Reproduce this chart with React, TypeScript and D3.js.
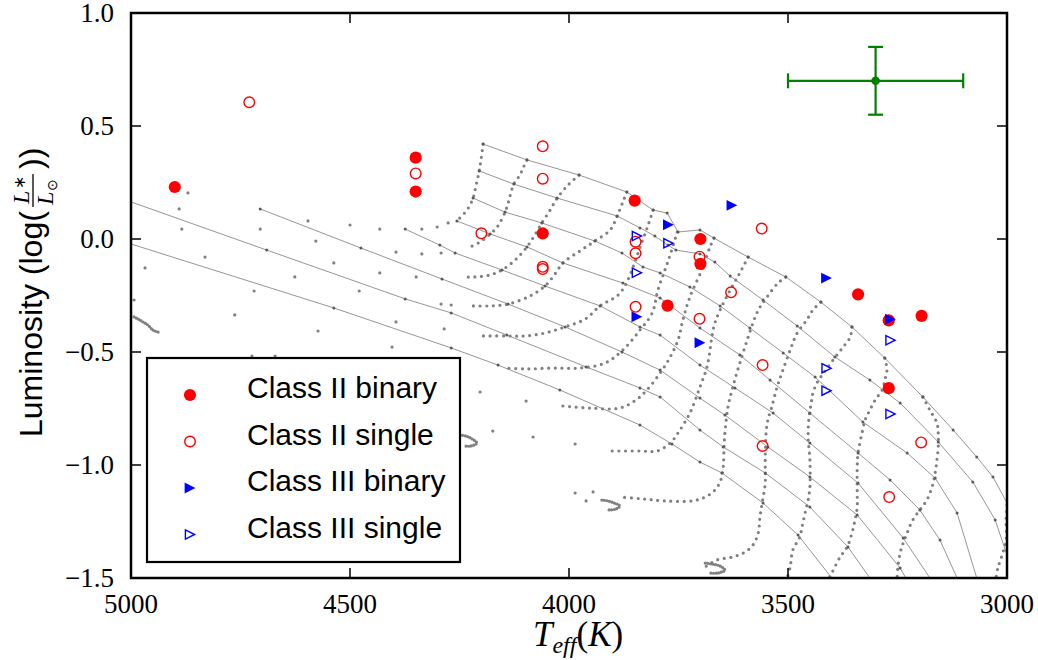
import React from 'react';
import * as d3 from 'd3';

type P = [number, number];

// Axis ticks
const X_TICKS = [5000, 4500, 4000, 3500, 3000];
const Y_TICKS = [1.0, 0.5, 0.0, -0.5, -1.0, -1.5];

// Observed stars: [Teff (K), log(L*/Lsun)]
const classIIBinary: P[] = [
  [4900, 0.23], [4350, 0.36], [4350, 0.21], [4060, 0.025], [3850, 0.17],
  [3700, 0.0], [3700, -0.11], [3775, -0.295], [3340, -0.245], [3270, -0.36],
  [3195, -0.34], [3270, -0.66],
];
const classIISingle: P[] = [
  [4730, 0.605], [4350, 0.29], [4060, 0.41], [4060, 0.267], [4200, 0.025],
  [4060, -0.123], [4060, -0.133], [3848, -0.012], [3848, -0.063], [3702, -0.078],
  [3560, 0.046], [3630, -0.236], [3848, -0.30], [3702, -0.353], [3558, -0.558],
  [3558, -0.916], [3196, -0.90], [3269, -1.142],
];
const classIIIBinary: P[] = [
  [3773, 0.063], [3628, 0.149], [3845, -0.344], [3701, -0.459], [3412, -0.173],
  [3266, -0.355],
];
const classIIISingle: P[] = [
  [3845, 0.013], [3773, -0.019], [3845, -0.149], [3266, -0.448], [3412, -0.572],
  [3412, -0.671], [3266, -0.774],
];

// Typical uncertainty: centre, Teff error, log L error
const errCenter: P = [3300, 0.70];
const errT = 200;
const errL = 0.15;

// Model isochrones (youngest first)
const iso1: P[] = [[4196, 0.420], [4096, 0.350], [3977, 0.283], [3868, 0.208], [3808, 0.128], [3776, 0.115], [3751, 0.031], [3701, 0.040], [3669, 0.004], [3591, -0.080], [3505, -0.168], [3425, -0.279], [3354, -0.389], [3279, -0.527], [3192, -0.699], [3123, -0.845], [3069, -0.965], [3032, -1.053], [3000, -1.168]];
const iso2: P[] = [[4205, 0.301], [4126, 0.243], [4027, 0.181], [3890, 0.102], [3838, 0.049], [3804, 0.013], [3774, -0.027], [3756, -0.049], [3701, -0.066], [3667, -0.102], [3632, -0.164], [3557, -0.270], [3479, -0.385], [3393, -0.522], [3313, -0.624], [3244, -0.726], [3157, -0.898], [3078, -1.075], [3027, -1.243], [3000, -1.398]];
const iso3: P[] = [[4219, 0.181], [4146, 0.119], [4062, 0.071], [3941, -0.009], [3879, -0.062], [3831, -0.124], [3792, -0.150], [3724, -0.212], [3655, -0.296], [3587, -0.394], [3511, -0.504], [3438, -0.611], [3329, -0.810], [3228, -0.947], [3164, -1.058], [3114, -1.212], [3069, -1.500]];
const iso4: P[] = [[4256, 0.080], [4180, 0.022], [4096, -0.035], [4014, -0.106], [3877, -0.195], [3792, -0.261], [3701, -0.394], [3610, -0.513], [3541, -0.624], [3450, -0.770], [3340, -0.947], [3267, -1.066], [3199, -1.199], [3153, -1.332], [3114, -1.500]];
const iso5: P[] = [[4374, 0.044], [4295, -0.027], [4260, -0.062], [4153, -0.137], [4055, -0.208], [3929, -0.296], [3838, -0.389], [3792, -0.425], [3701, -0.558], [3621, -0.659], [3534, -0.770], [3450, -0.903], [3340, -1.080], [3237, -1.323], [3176, -1.500]];
const iso6: P[] = [[4705, 0.133], [4475, -0.040], [4290, -0.177], [4139, -0.288], [4009, -0.389], [3879, -0.500], [3792, -0.580], [3701, -0.704], [3644, -0.779], [3546, -0.920], [3450, -1.053], [3342, -1.221], [3244, -1.456], [3231, -1.500]];
const iso7: P[] = [[5000, 0.164], [4690, -0.049], [4374, -0.265], [4269, -0.327], [4142, -0.425], [3961, -0.566], [3838, -0.659], [3792, -0.699], [3701, -0.845], [3648, -0.920], [3552, -1.035], [3450, -1.186], [3363, -1.363], [3313, -1.500]];
const iso8: P[] = [[5000, -0.022], [4537, -0.305], [4269, -0.482], [4162, -0.558], [4021, -0.668], [3838, -0.823], [3765, -0.907], [3701, -0.987], [3651, -1.035], [3557, -1.168], [3477, -1.310], [3400, -1.500]];

// Evolutionary mass tracks (highest mass first)
const track1: P[] = [[4196, 0.420], [4201, 0.350], [4205, 0.301], [4212, 0.239], [4219, 0.181], [4233, 0.128], [4256, 0.080]];
const track2: P[] = [[4096, 0.350], [4105, 0.314], [4112, 0.283], [4126, 0.243], [4139, 0.159], [4146, 0.119], [4164, 0.053], [4180, 0.022], [4203, -0.013], [4231, -0.040]];
const track3: P[] = [[3977, 0.283], [4002, 0.239], [4027, 0.181], [4043, 0.128], [4062, 0.071], [4078, 0.018], [4096, -0.035], [4123, -0.093], [4153, -0.137], [4180, -0.159], [4215, -0.168], [4244, -0.168]];
const track4: P[] = [[3868, 0.208], [3877, 0.164], [3890, 0.102], [3906, 0.040], [3941, -0.009], [3975, -0.053], [4014, -0.106], [4032, -0.155], [4055, -0.208], [4089, -0.252], [4139, -0.288], [4180, -0.296], [4221, -0.296]];
const track5: P[] = [[3808, 0.128], [3820, 0.058], [3836, -0.027], [3852, -0.115], [3870, -0.199], [3888, -0.248], [3929, -0.296], [3963, -0.354], [4009, -0.389], [4055, -0.416], [4100, -0.429], [4142, -0.429], [4199, -0.429]];
const track6: P[] = [[3753, 0.031], [3767, -0.058], [3781, -0.137], [3797, -0.226], [3810, -0.327], [3838, -0.403], [3877, -0.491], [3918, -0.549], [3975, -0.571], [4037, -0.571], [4096, -0.575], [4146, -0.571]];
const track7: P[] = [[3669, 0.004], [3678, -0.035], [3694, -0.124], [3724, -0.257], [3740, -0.358], [3751, -0.447], [3769, -0.522], [3792, -0.593], [3822, -0.668], [3847, -0.712], [3884, -0.748], [3952, -0.748], [4014, -0.739]];
const track8: P[] = [[3591, -0.080], [3610, -0.150], [3632, -0.226], [3655, -0.314], [3667, -0.372], [3674, -0.434], [3678, -0.491], [3685, -0.566], [3701, -0.655], [3724, -0.770], [3751, -0.858], [3769, -0.903], [3799, -0.938], [3838, -0.938], [3913, -0.938]];
const track9: P[] = [[3505, -0.168], [3523, -0.195], [3548, -0.257], [3564, -0.301], [3575, -0.345], [3591, -0.434], [3610, -0.549], [3626, -0.655], [3637, -0.743], [3644, -0.858], [3646, -0.920], [3648, -1.009], [3655, -1.075], [3671, -1.119], [3694, -1.146], [3719, -1.159], [3781, -1.159], [3831, -1.150], [3884, -1.142]];
const track10: P[] = [[3425, -0.279], [3443, -0.314], [3457, -0.358], [3479, -0.416], [3495, -0.491], [3514, -0.593], [3525, -0.655], [3537, -0.743], [3546, -0.801], [3550, -0.858], [3552, -0.978], [3552, -1.080], [3559, -1.168], [3564, -1.230], [3568, -1.301], [3580, -1.354], [3598, -1.385], [3626, -1.407], [3662, -1.420], [3689, -1.451]];
const track11: P[] = [[3354, -0.389], [3358, -0.434], [3374, -0.478], [3397, -0.535], [3422, -0.602], [3434, -0.637], [3443, -0.681], [3447, -0.726], [3452, -0.788], [3454, -0.876], [3450, -0.978], [3450, -1.097], [3454, -1.155], [3461, -1.212], [3468, -1.274], [3473, -1.319], [3489, -1.376], [3495, -1.451], [3502, -1.500]];
const track12: P[] = [[3279, -0.527], [3274, -0.580], [3279, -0.624], [3285, -0.668], [3301, -0.712], [3313, -0.757], [3324, -0.801], [3331, -0.858], [3340, -0.947], [3342, -1.009], [3342, -1.124], [3342, -1.186], [3347, -1.243], [3354, -1.301], [3365, -1.363], [3381, -1.407], [3400, -1.478], [3406, -1.500]];
const track13: P[] = [[3192, -0.699], [3176, -0.757], [3160, -0.814], [3157, -0.858], [3157, -0.920], [3160, -0.978], [3164, -1.035], [3171, -1.097], [3183, -1.155], [3199, -1.199], [3215, -1.243], [3228, -1.301], [3237, -1.345], [3244, -1.389], [3249, -1.451], [3251, -1.500]];
const track14: P[] = [[3000, -1.177], [3002, -1.243], [3002, -1.332], [3011, -1.398], [3021, -1.456], [3025, -1.500]];

// Main-sequence arrival hooks at the end of tracks
const hook1: P[] = [[4993, -0.345], [4984, -0.354], [4973, -0.367], [4961, -0.381], [4950, -0.403], [4938, -0.412]];
const hook2: P[] = [[4249, -0.867], [4235, -0.872], [4221, -0.885], [4210, -0.903], [4224, -0.916], [4240, -0.916]];
const hook3: P[] = [[3925, -1.155], [3911, -1.159], [3897, -1.168], [3884, -1.181], [3893, -1.195], [3911, -1.199]];
const hook4: P[] = [[3689, -1.434], [3674, -1.438], [3655, -1.447], [3644, -1.465], [3660, -1.478], [3678, -1.478]];

// Sparsely sampled model points (fast evolutionary phases)
const sparsePoints: P[] = [
  [4870, 0.204], [4890, 0.133], [4884, 0.044], [4831, -0.080], [4968, -0.128], [4993, -0.270],
  [4763, -0.336], [4719, -0.230], [4705, 0.044], [4626, -0.168], [4596, 0.080], [4578, -0.009],
  [4573, -0.407], [4537, -0.106], [4500, 0.062], [4479, -0.230], [4432, 0.044], [4432, -0.150],
  [4404, -0.478], [4395, -0.058], [4395, -0.367], [4285, -0.398], [4724, -0.518], [4671, -0.518],
  [4203, -0.677], [4098, -0.717], [4174, -0.850], [4082, -0.876], [3986, -0.907], [3986, -1.124],
  [3945, -1.119], [3961, -1.159], [4276, 0.071], [4301, 0.053], [4336, 0.044], [4292, -0.062],
  [4336, -0.066], [4349, -0.168], [4269, -0.292], [4292, -0.288],
];

const isochrones = [iso1, iso2, iso3, iso4, iso5, iso6, iso7, iso8];
const tracks = [track1, track2, track3, track4, track5, track6, track7, track8, track9, track10, track11, track12, track13, track14];
const hooks = [hook1, hook2, hook3, hook4];

const LEGEND = ['Class II binary', 'Class II single', 'Class III binary', 'Class III single'];

const RED = '#ff0000';
const BLUE = '#0000ff';
const GREEN = '#008000';
const SANS = '"Liberation Sans", Arial, sans-serif';
const SERIF = '"Liberation Serif", "Times New Roman", serif';

function triPath(cx: number, cy: number, s: number) {
  return `M${cx - s},${cy - s}L${cx + s},${cy}L${cx - s},${cy + s}Z`;
}

function Marker({ kind, cx, cy }: { kind: number; cx: number; cy: number }) {
  if (kind === 0) return <circle cx={cx} cy={cy} r={6.1} fill={RED} />;
  if (kind === 1) return <circle cx={cx} cy={cy} r={5.3} fill="none" stroke={RED} strokeWidth={1.4} />;
  if (kind === 2) return <path d={triPath(cx, cy, 5.4)} fill={BLUE} />;
  return <path d={triPath(cx, cy, 4.6)} fill="none" stroke={BLUE} strokeWidth={1.4} />;
}

export default function App() {
  const L = 131, R = 1007, T = 13, B = 578;
  const x = d3.scaleLinear().domain([5000, 3000]).range([L, R]);
  const y = d3.scaleLinear().domain([-1.5, 1.0]).range([B, T]);
  const straight = d3.line<P>().x(d => x(d[0])).y(d => y(d[1]));
  const smooth = d3.line<P>().x(d => x(d[0])).y(d => y(d[1])).curve(d3.curveCatmullRom.alpha(0.5));

  const fmtY = (v: number) => (v < 0 ? '\u2212' : '') + Math.abs(v).toFixed(1);
  const interior = (d: P) => d[0] < 5000 && d[0] > 3000 && d[1] > -1.5;

  const groups: P[][] = [classIIBinary, classIISingle, classIIIBinary, classIIISingle];
  const ex = x(errCenter[0]);
  const ey = y(errCenter[1]);

  return (
    <div style={{ position: 'absolute', left: 0, top: 0 }}>
      <svg width={1038} height={660} viewBox="0 0 1038 660" style={{ display: 'block', background: '#fff' }}>
        <defs>
          <clipPath id="plotArea">
            <rect x={L} y={T} width={R - L} height={B - T} />
          </clipPath>
        </defs>
        <rect x={0} y={0} width={1038} height={660} fill="#fff" />
        <g clipPath="url(#plotArea)">
          {isochrones.map((iso, i) => (
            <path key={'iso' + i} d={straight(iso) ?? ''} fill="none" stroke="#8a8a8a" strokeWidth={0.9} />
          ))}
          {tracks.map((tr, i) => (
            <path key={'tr' + i} d={smooth(tr) ?? ''} fill="none" stroke="#808080" strokeWidth={3.2}
              strokeLinecap="round" strokeDasharray="0 6.6" />
          ))}
          {hooks.map((h, i) => (
            <path key={'hk' + i} d={smooth(h) ?? ''} fill="none" stroke="#808080" strokeWidth={3.2}
              strokeLinecap="round" strokeDasharray="0 2.6" />
          ))}
          {sparsePoints.map((p, i) => (
            <circle key={'sp' + i} cx={x(p[0])} cy={y(p[1])} r={1.6} fill="#808080" />
          ))}
          {isochrones.map((iso, i) =>
            iso.filter(interior).map((p, j) => (
              <circle key={`v${i}-${j}`} cx={x(p[0])} cy={y(p[1])} r={1.5} fill="#5a5a5a" />
            ))
          )}
          {groups.map((g, k) =>
            g.map((p, i) => <Marker key={`m${k}-${i}`} kind={k} cx={x(p[0])} cy={y(p[1])} />)
          )}
          {/* representative error bar */}
          <g stroke={GREEN} strokeWidth={2.2} fill="none">
            <line x1={x(errCenter[0] + errT)} x2={x(errCenter[0] - errT)} y1={ey} y2={ey} />
            <line x1={ex} x2={ex} y1={y(errCenter[1] + errL)} y2={y(errCenter[1] - errL)} />
            <line x1={x(errCenter[0] + errT)} x2={x(errCenter[0] + errT)} y1={ey - 7.5} y2={ey + 7.5} />
            <line x1={x(errCenter[0] - errT)} x2={x(errCenter[0] - errT)} y1={ey - 7.5} y2={ey + 7.5} />
            <line x1={ex - 7.5} x2={ex + 7.5} y1={y(errCenter[1] + errL)} y2={y(errCenter[1] + errL)} />
            <line x1={ex - 7.5} x2={ex + 7.5} y1={y(errCenter[1] - errL)} y2={y(errCenter[1] - errL)} />
          </g>
          <circle cx={ex} cy={ey} r={4.3} fill={GREEN} />
        </g>

        {/* ticks on all four sides, pointing inward */}
        <g stroke="#000" strokeWidth={1.5}>
          {X_TICKS.map(t => (
            <g key={'xt' + t}>
              <line x1={x(t)} x2={x(t)} y1={B} y2={B - 10} />
              <line x1={x(t)} x2={x(t)} y1={T} y2={T + 10} />
            </g>
          ))}
          {Y_TICKS.map(t => (
            <g key={'yt' + t}>
              <line x1={L} x2={L + 10} y1={y(t)} y2={y(t)} />
              <line x1={R} x2={R - 10} y1={y(t)} y2={y(t)} />
            </g>
          ))}
        </g>
        <rect x={L} y={T} width={R - L} height={B - T} fill="none" stroke="#000" strokeWidth={2.5} />

        {/* tick labels */}
        <g fontFamily={SERIF} fontSize={27} fill="#000">
          {X_TICKS.map(t => (
            <text key={'xl' + t} x={x(t)} y={613} textAnchor="middle">{t}</text>
          ))}
          {Y_TICKS.map(t => (
            <text key={'yl' + t} x={114} y={y(t) + 9} textAnchor="end">{fmtY(t)}</text>
          ))}
        </g>

        {/* axis titles */}
        <text x={533} y={646} fontFamily={SERIF} fontSize={35} fill="#000">
          <tspan fontStyle="italic">T</tspan>
          <tspan fontStyle="italic" fontSize={24} dy={7}>eff</tspan>
          <tspan dy={-7}>(</tspan>
          <tspan fontStyle="italic">K</tspan>
          <tspan>)</tspan>
        </text>
        <g transform="translate(42,437) rotate(-90)" fill="#000">
          <text x={0} y={0} fontFamily={SANS} fontSize={32}>Luminosity (log(</text>
          <text x={233} y={-13} fontFamily={SERIF} fontSize={24} fontStyle="italic">L</text>
          <text x={248} y={-17} fontFamily={SERIF} fontSize={16}>{'\u2217'}</text>
          <line x1={230} x2={263} y1={-9} y2={-9} stroke="#000" strokeWidth={1.3} />
          <text x={232} y={11} fontFamily={SERIF} fontSize={24} fontStyle="italic">L</text>
          <text x={246} y={15} fontFamily={SERIF} fontSize={14}>{'\u2299'}</text>
          <text x={268} y={0} fontFamily={SANS} fontSize={32}>))</text>
        </g>

        {/* legend */}
        <rect x={147} y={358} width={313} height={204} fill="#fff" stroke="#000" strokeWidth={2.2} />
        {LEGEND.map((label, i) => {
          const ry = 395 + i * 46.5;
          return (
            <g key={'lg' + i}>
              <Marker kind={i} cx={190} cy={ry} />
              <text x={247} y={ry + 3} fontFamily={SANS} fontSize={30} fill="#000">{label}</text>
            </g>
          );
        })}
      </svg>
    </div>
  );
}
